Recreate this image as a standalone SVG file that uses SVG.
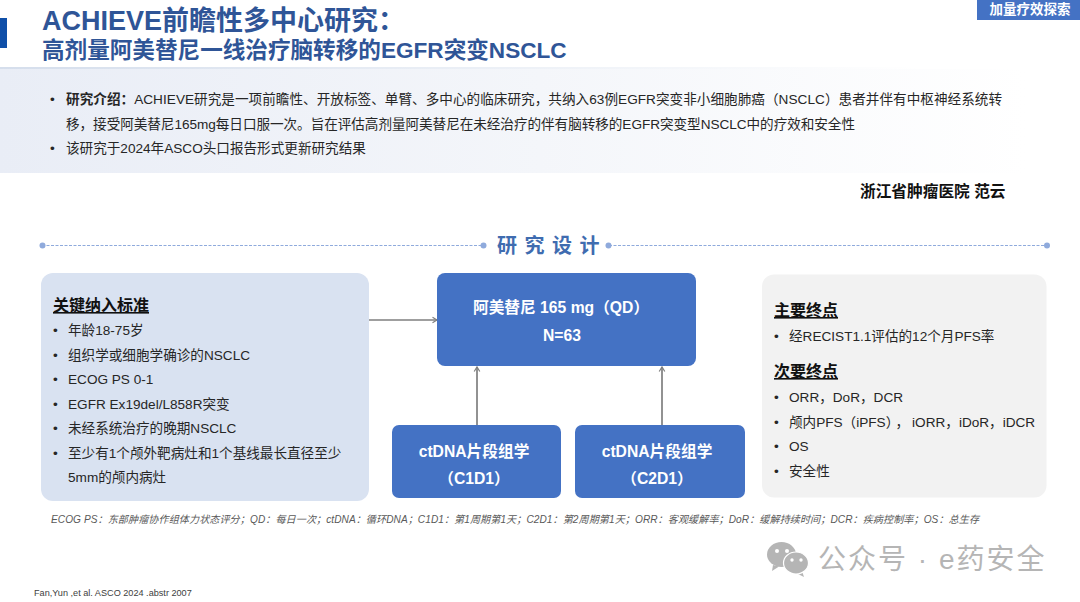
<svg xmlns="http://www.w3.org/2000/svg" width="1080" height="602" viewBox="0 0 1080 602">
<defs>
<linearGradient id="band" x1="0" y1="0" x2="1" y2="0"><stop offset="0" stop-color="#e9edf6"/><stop offset="0.5" stop-color="#f4f6fa"/><stop offset="0.95" stop-color="#ffffff"/></linearGradient>
<linearGradient id="edge" x1="0" y1="0" x2="1" y2="0"><stop offset="0" stop-color="#d5deec"/><stop offset="0.85" stop-color="#ffffff"/></linearGradient>
<marker id="arr" markerUnits="userSpaceOnUse" markerWidth="8" markerHeight="8" refX="6" refY="4" orient="auto"><path d="M1.500 1.200L6 4L1.500 6.800" fill="none" stroke="#7f7f7f" stroke-width="1.200"/></marker>
</defs>
<style>
text{font-family:"Liberation Sans","Noto Sans CJK SC",sans-serif}
.t{font-size:13.600px;fill:#262626}
.b{font-weight:700}
.w{font-size:15.700px;font-weight:700;fill:#fff;text-anchor:middle}
.h{font-size:16px;font-weight:700;fill:#111;text-decoration:underline}
.blue{fill:#4472c4}
.c{stroke:#7f7f7f;stroke-width:1.700;fill:none;marker-end:url(#arr)}
.d{stroke:#8faadc;stroke-width:1;stroke-dasharray:3 1.500;fill:none}
.dot{fill:#8faadc}
.wm{fill:#b5b5b5}
</style>
<rect width="1080" height="602" fill="#fff"/>
<rect id="accent" x="0" y="18" width="7" height="30" fill="#0f4fa8"/>
<g id="title">
<text x="42" y="30" font-size="27" font-weight="700" fill="#2f5597">ACHIEVE前瞻性多中心研究：</text>
<text x="42" y="58" font-size="22.600" font-weight="700" fill="#2f5597">高剂量阿美替尼一线治疗脑转移的EGFR突变NSCLC</text>
</g>
<g id="tag"><rect x="977" y="0" width="103" height="20" class="blue"/><text x="1030" y="14" font-size="13.500" font-weight="700" fill="#fff" text-anchor="middle">加量疗效探索</text></g>
<g id="intro">
<rect x="0" y="68" width="1080" height="105" fill="url(#band)"/>
<rect x="0" y="67" width="1080" height="2" fill="url(#edge)"/>
<text class="t" x="50" y="104">•</text>
<text class="t" x="66" y="104" textLength="936"><tspan class="b">研究介绍：</tspan>ACHIEVE研究是一项前瞻性、开放标签、单臂、多中心的临床研究，共纳入63例EGFR突变非小细胞肺癌（NSCLC）患者并伴有中枢神经系统转</text>
<text class="t" x="66" y="129" textLength="789">移，接受阿美替尼165mg每日口服一次。旨在评估高剂量阿美替尼在未经治疗的伴有脑转移的EGFR突变型NSCLC中的疗效和安全性</text>
<text class="t" x="50" y="153">•</text>
<text class="t" x="66" y="153">该研究于2024年ASCO头口报告形式更新研究结果</text>
</g>
<text id="author" x="860" y="197" font-size="15.700" font-weight="700" fill="#111">浙江省肿瘤医院 范云</text>
<g id="section">
<path class="d" d="M42 245.500H483M609 245.500H1046"/>
<circle class="dot" cx="42.500" cy="245.500" r="3"/><circle class="dot" cx="483.500" cy="245.500" r="3"/><circle class="dot" cx="608.500" cy="245.500" r="3"/><circle class="dot" cx="1047" cy="245.500" r="3"/>
<text x="497" y="253" font-size="20" font-weight="700" fill="#3f6cb0" letter-spacing="7.500">研究设计</text>
</g>
<g id="connectors">
<path class="c" d="M369 320H437"/>
<path class="c" d="M477 426V367"/>
<path class="c" d="M662 426V367"/>
</g>
<g id="criteria">
<rect x="41" y="273" width="328" height="228" rx="12" fill="#d9e2f1"/>
<text class="h" x="53" y="311">关键纳入标准</text>
<g class="t">
<text x="53" y="335">•</text><text x="68" y="335">年龄18-75岁</text>
<text x="53" y="360">•</text><text x="68" y="360">组织学或细胞学确诊的NSCLC</text>
<text x="53" y="384">•</text><text x="68" y="384">ECOG PS 0-1</text>
<text x="53" y="409">•</text><text x="68" y="409">EGFR Ex19del/L858R突变</text>
<text x="53" y="433">•</text><text x="68" y="433">未经系统治疗的晚期NSCLC</text>
<text x="53" y="458">•</text><text x="68" y="458">至少有1个颅外靶病灶和1个基线最长直径至少</text>
<text x="68" y="482">5mm的颅内病灶</text>
</g>
</g>
<g id="drug"><rect x="437" y="273" width="259" height="93" rx="8" class="blue"/>
<text class="w" x="473" y="313" style="text-anchor:start">阿美替尼 165 mg（QD）</text><text class="w" x="562" y="341">N=63</text></g>
<g id="c1"><rect x="392" y="425" width="169" height="73" rx="7" class="blue"/>
<text class="w" x="474" y="457">ctDNA片段组学</text><text class="w" x="474" y="484">（C1D1）</text></g>
<g id="c2"><rect x="575" y="425" width="170" height="73" rx="7" class="blue"/>
<text class="w" x="657" y="457">ctDNA片段组学</text><text class="w" x="657" y="484">（C2D1）</text></g>
<g id="endpoints">
<rect x="762" y="274.500" width="284.500" height="223" rx="12" fill="#f2f2f2"/>
<text class="h" x="774" y="316">主要终点</text>
<g class="t"><text x="774" y="341">•</text><text x="789" y="341">经RECIST1.1评估的12个月PFS率</text></g>
<text class="h" x="774" y="377">次要终点</text>
<g class="t">
<text x="774" y="402">•</text><text x="789" y="402">ORR，DoR，DCR</text>
<text x="774" y="427">•</text><text x="789" y="427">颅内PFS（iPFS）<tspan dx="3">，</tspan><tspan dx="3">iORR，iDoR，iDCR</tspan></text>
<text x="774" y="451">•</text><text x="789" y="451">OS</text>
<text x="774" y="476">•</text><text x="789" y="476">安全性</text>
</g>
</g>
<text id="abbr" x="51" y="523" font-size="10.150" font-style="italic" fill="#595959" textLength="928">ECOG PS：东部肿瘤协作组体力状态评分；QD：每日一次；ctDNA：循环DNA；C1D1：第1周期第1天；C2D1：第2周期第1天；ORR：客观缓解率；DoR：缓解持续时间；DCR：疾病控制率；OS：总生存</text>
<text id="ref" x="34" y="595.500" font-size="9.150" fill="#404040">Fan,Yun ,et al. ASCO 2024 .abstr 2007</text>
<g id="watermark">
<path class="wm" d="M773 565L772 571L779 566.500Z"/>
<ellipse class="wm" cx="781.500" cy="554.500" rx="14.500" ry="12.500"/>
<circle cx="777" cy="551" r="2" fill="#fff"/><circle cx="787" cy="551" r="2" fill="#fff"/>
<path class="wm" d="M802 571L804 577L796 573Z"/>
<ellipse class="wm" cx="796" cy="563" rx="12.500" ry="11" stroke="#fff" stroke-width="1.200"/>
<circle cx="792" cy="560" r="1.700" fill="#fff"/><circle cx="801" cy="560" r="1.700" fill="#fff"/>
<text x="818" y="569" font-size="28" fill="#b5b5b5" letter-spacing="2">公众号 · e药安全</text>
</g>
</svg>
